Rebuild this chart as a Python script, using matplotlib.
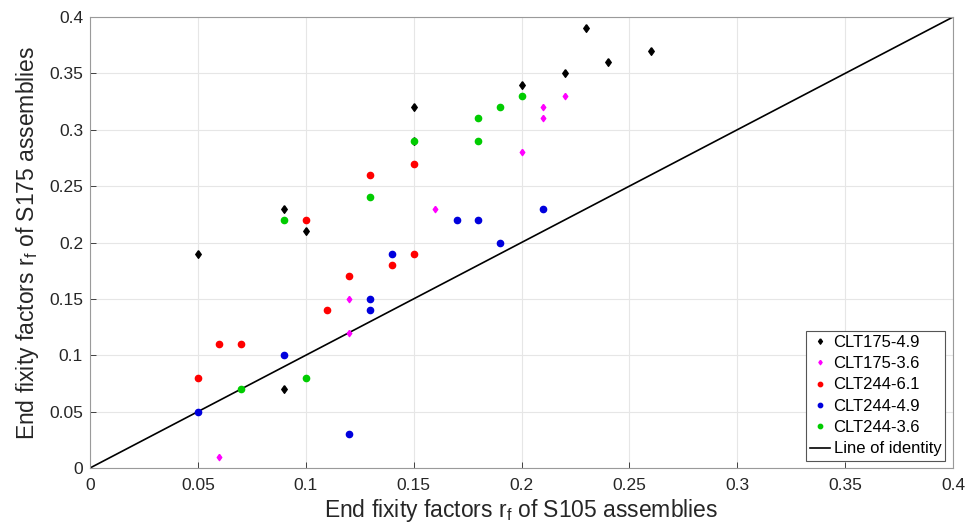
import numpy as np
import matplotlib
matplotlib.use("Agg")
import matplotlib.pyplot as plt

plt.rcParams['font.family'] = ['Liberation Sans', 'DejaVu Sans']

# End fixity factors (x: S105, y: S175)
clt175_49_x = [0.05, 0.09, 0.09, 0.10, 0.15, 0.15, 0.20, 0.22, 0.23, 0.24, 0.26]
clt175_49_y = [0.19, 0.23, 0.07, 0.21, 0.32, 0.29, 0.34, 0.35, 0.39, 0.36, 0.37]

clt175_36_x = [0.06, 0.12, 0.12, 0.16, 0.20, 0.21, 0.21, 0.22]
clt175_36_y = [0.01, 0.12, 0.15, 0.23, 0.28, 0.31, 0.32, 0.33]

clt244_61_x = [0.05, 0.06, 0.07, 0.10, 0.11, 0.12, 0.13, 0.14, 0.15, 0.15]
clt244_61_y = [0.08, 0.11, 0.11, 0.22, 0.14, 0.17, 0.26, 0.18, 0.19, 0.27]

clt244_49_x = [0.05, 0.09, 0.12, 0.13, 0.13, 0.14, 0.17, 0.18, 0.19, 0.21]
clt244_49_y = [0.05, 0.10, 0.03, 0.15, 0.14, 0.19, 0.22, 0.22, 0.20, 0.23]

clt244_36_x = [0.07, 0.09, 0.10, 0.13, 0.15, 0.18, 0.18, 0.19, 0.20]
clt244_36_y = [0.07, 0.22, 0.08, 0.24, 0.29, 0.29, 0.31, 0.32, 0.33]

identity = [0, 0.4]
ticks = [0, 0.05, 0.1, 0.15, 0.2, 0.25, 0.3, 0.35, 0.4]
tick_labels = ["0", "0.05", "0.1", "0.15", "0.2", "0.25", "0.3", "0.35", "0.4"]

# MATLAB-like diamond (a bit wider than matplotlib's thin diamond)
diamond = [(0, 1), (0.72, 0), (0, -1), (-0.72, 0), (0, 1)]


def main() -> None:
    fig = plt.figure(figsize=(9.67, 5.32), dpi=100)
    ax = fig.add_axes([0.0931, 0.1203, 0.8924, 0.8477])

    ax.plot(clt175_49_x, clt175_49_y, marker=diamond, linestyle='none',
            color='black', markersize=5.5, label='CLT175-4.9', zorder=3)
    ax.plot(clt175_36_x, clt175_36_y, marker=diamond, linestyle='none',
            color='#ff00ff', markersize=4.5, label='CLT175-3.6', zorder=4)
    ax.plot(clt244_61_x, clt244_61_y, 'o', color='#ff0000', markersize=4.5,
            label='CLT244-6.1', zorder=4)
    ax.plot(clt244_49_x, clt244_49_y, 'o', color='#0000dd', markersize=4.5,
            label='CLT244-4.9', zorder=4)
    ax.plot(clt244_36_x, clt244_36_y, 'o', color='#00cc00', markersize=4.5,
            label='CLT244-3.6', zorder=4)
    ax.plot(identity, identity, '-', color='black', linewidth=1.2,
            label='Line of identity', zorder=2)

    ax.set_xlim(0, 0.4)
    ax.set_ylim(0, 0.4)
    ax.set_xticks(ticks)
    ax.set_xticklabels(tick_labels)
    ax.set_yticks(ticks)
    ax.set_yticklabels(tick_labels)
    ax.tick_params(direction='in', labelsize=12.5, colors='#262626',
                   length=4, width=0.6)
    ax.tick_params(axis='x', pad=7)
    ax.tick_params(axis='y', pad=5)
    ax.grid(True, color='#e6e6e6', linewidth=0.8)
    ax.set_axisbelow(True)
    for spine in ax.spines.values():
        spine.set_color('#9a9a9a')
        spine.set_linewidth(0.8)

    ax.set_xlabel("End fixity factors r$_\\mathregular{f}$ of S105 assemblies",
                  fontsize=16.5, color='#262626', labelpad=3)
    ax.set_ylabel("End fixity factors r$_\\mathregular{f}$ of S175 assemblies",
                  fontsize=16.5, color='#262626', labelpad=6)

    leg = ax.legend(loc='lower right', fontsize=12, handlelength=1.2,
                    handletextpad=0.2, borderpad=0.25, labelspacing=0.38,
                    fancybox=False, framealpha=1, edgecolor='#555555',
                    markerscale=0.7, borderaxespad=0.45)
    leg.get_frame().set_linewidth(0.8)

    plt.savefig("out.png", dpi=100)
    plt.close()


if __name__ == '__main__':
    main()
